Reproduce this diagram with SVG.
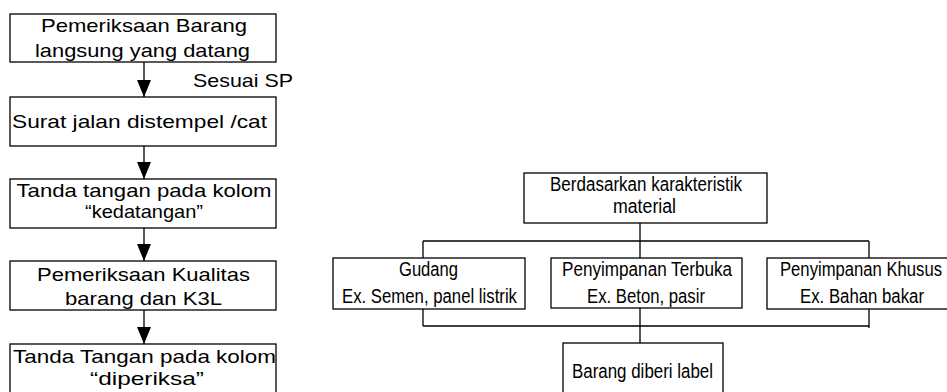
<svg xmlns="http://www.w3.org/2000/svg" width="947" height="392" viewBox="0 0 947 392">
<style>
.box{fill:#fff;stroke:#000;stroke-width:1.3}
.ln{fill:none;stroke:#000;stroke-width:1.3}
.lt{font-family:"Liberation Sans",Arial,sans-serif;font-size:19px;fill:#000}
.rt{font-family:"Liberation Sans",Arial,sans-serif;font-size:20px;fill:#000}
</style>
<defs>
<marker id="ah" viewBox="0 0 17 14" refX="17" refY="7" markerWidth="17" markerHeight="14" markerUnits="userSpaceOnUse" orient="auto">
<path d="M0,0 L17,7 L0,14 z" fill="#000"/>
</marker>
</defs>
<rect width="947" height="392" fill="#fff"/>
<g id="connectors">
<line class="ln" x1="144" y1="62" x2="144" y2="97" marker-end="url(#ah)"/>
<line class="ln" x1="144" y1="146" x2="144" y2="179" marker-end="url(#ah)"/>
<line class="ln" x1="144" y1="228" x2="144" y2="261" marker-end="url(#ah)"/>
<line class="ln" x1="144" y1="310" x2="144" y2="344" marker-end="url(#ah)"/>
<path class="ln" d="M640,223 V241 M423,241 H869 M423,241 V326 M869,241 V328 M640,241 V343 M423,326 H869"/>
<text class="lt" x="193" y="87" textLength="100" lengthAdjust="spacingAndGlyphs">Sesuai SP</text>
</g>
<g id="n1">
<rect class="box" x="10" y="14" width="266" height="48"/>
<text class="lt" x="41" y="32" textLength="206" lengthAdjust="spacingAndGlyphs">Pemeriksaan Barang</text>
<text class="lt" x="35" y="57" textLength="215" lengthAdjust="spacingAndGlyphs">langsung yang datang</text>
</g>
<g id="n2">
<rect class="box" x="10" y="97" width="266" height="49"/>
<text class="lt" x="12" y="128" textLength="255" lengthAdjust="spacingAndGlyphs">Surat jalan distempel /cat</text>
</g>
<g id="n3">
<rect class="box" x="10" y="179" width="266" height="49"/>
<text class="lt" x="16.5" y="197" textLength="255" lengthAdjust="spacingAndGlyphs">Tanda tangan pada kolom</text>
<text class="lt" x="85" y="218" textLength="118" lengthAdjust="spacingAndGlyphs">“kedatangan”</text>
</g>
<g id="n4">
<rect class="box" x="10" y="261" width="266" height="49"/>
<text class="lt" x="37" y="281" textLength="213" lengthAdjust="spacingAndGlyphs">Pemeriksaan Kualitas</text>
<text class="lt" x="65" y="305" textLength="157" lengthAdjust="spacingAndGlyphs">barang dan K3L</text>
</g>
<g id="n5">
<rect class="box" x="10" y="344" width="266" height="60"/>
<text class="lt" x="13" y="363" textLength="263" lengthAdjust="spacingAndGlyphs">Tanda Tangan pada kolom</text>
<text class="lt" x="90" y="385" textLength="114" lengthAdjust="spacingAndGlyphs">“diperiksa”</text>
</g>
<g id="r1">
<rect class="box" x="524" y="173" width="243" height="50"/>
<text class="rt" x="550" y="191" textLength="192" lengthAdjust="spacingAndGlyphs">Berdasarkan karakteristik</text>
<text class="rt" x="613" y="213" textLength="63" lengthAdjust="spacingAndGlyphs">material</text>
</g>
<g id="r2">
<rect class="box" x="333" y="258" width="192" height="51"/>
<text class="rt" x="399" y="276" textLength="59" lengthAdjust="spacingAndGlyphs">Gudang</text>
<text class="rt" x="342" y="303" textLength="175" lengthAdjust="spacingAndGlyphs">Ex. Semen, panel listrik</text>
</g>
<g id="r3">
<rect class="box" x="551" y="258" width="191" height="50"/>
<text class="rt" x="562" y="276" textLength="170" lengthAdjust="spacingAndGlyphs">Penyimpanan Terbuka</text>
<text class="rt" x="587" y="303" textLength="118" lengthAdjust="spacingAndGlyphs">Ex. Beton, pasir</text>
</g>
<g id="r4">
<rect class="box" x="767" y="258" width="192" height="51"/>
<text class="rt" x="780" y="276" textLength="162" lengthAdjust="spacingAndGlyphs">Penyimpanan Khusus</text>
<text class="rt" x="800" y="303" textLength="124" lengthAdjust="spacingAndGlyphs">Ex. Bahan bakar</text>
</g>
<g id="r5">
<rect class="box" x="563" y="343" width="160" height="60"/>
<text class="rt" x="572" y="378" textLength="141" lengthAdjust="spacingAndGlyphs">Barang diberi label</text>
</g>
</svg>
